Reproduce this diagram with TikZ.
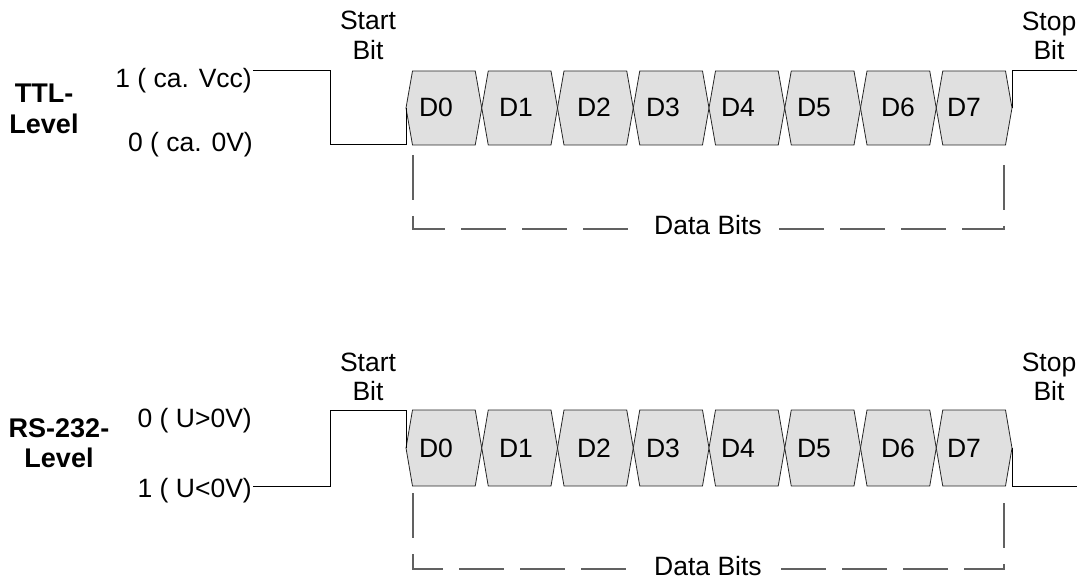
\documentclass[tikz,border=0pt]{standalone}
\usepackage{fontspec}
\setmainfont{Liberation Sans}
\usetikzlibrary{positioning}

\begin{document}
\begin{tikzpicture}[x=1pt,y=-1pt,
  txt/.style={font=\fontsize{26.5}{30}\selectfont,inner sep=0pt},
  lvl/.style={font=\fontsize{27}{30}\selectfont\bfseries,inner sep=0pt,anchor=base},
  sig/.style={line width=1pt,line join=miter},
  cell/.style={draw=black!85,fill=black!12,line width=0.8pt},
  bracket/.style={draw=black!62,line width=1.3pt,dash pattern=on 45pt off 16pt}]
\useasboundingbox (0,0) rectangle (1077,580);
% level names
\node[lvl] (ttl1) at (44,103) {TTL-};
\node[lvl] (ttl2) at (44,134) {Level};
\node[lvl] (rs1) at (59,437) {RS-232-};
\node[lvl] (rs2) at (59,467) {Level};
% level values
\node[txt,anchor=base east] (ttlhi) at (252,88) {1 ( ca. Vcc)};
\node[txt,anchor=base east] (ttllo) at (253,152) {0 ( ca. 0V)};
\node[txt,anchor=base east] (rshi) at (252,427) {0 ( U>0V)};
\node[txt,anchor=base east] (rslo) at (252,497) {1 ( U<0V)};
% start and stop bits
\node[txt,anchor=base] (ttlstart1) at (368,30) {Start};
\node[txt,anchor=base] (ttlstart2) at (368,60) {Bit};
\node[txt,anchor=base] (ttlstop1) at (1049,31) {Stop};
\node[txt,anchor=base] (ttlstop2) at (1049,60) {Bit};
\node[txt,anchor=base] (rsstart1) at (368,371) {Start};
\node[txt,anchor=base] (rsstart2) at (368,400) {Bit};
\node[txt,anchor=base] (rsstop1) at (1049,371) {Stop};
\node[txt,anchor=base] (rsstop2) at (1049,400) {Bit};
% data cells
\foreach \row/\yt/\yb in {t/71/145,r/410/486} {
  \foreach \i/\tx in {0/436,1/516,2/594,3/663,4/738,5/814,6/898,7/964} {
    \pgfmathsetmacro\xa{406+75.75*\i}
    \pgfmathsetmacro\xb{\xa+75.75}
    \pgfmathsetmacro\ym{(\yt+\yb)/2}
    \draw[cell] (\xa,\ym) -- (\xa+6.5,\yt) -- (\xb-6.5,\yt) -- (\xb,\ym)
      -- (\xb-6.5,\yb) -- (\xa+6.5,\yb) -- cycle;
    \node[txt,anchor=base] (d\row\i) at (\tx,\ym+9) {D\i};
  }
}
% TTL signal
\coordinate (t0) at (253,71);
\coordinate (t1) at (330,71);
\coordinate (t2) at (330,145);
\coordinate (t3) at (406,145);
\coordinate (t4) at (406,108);
\coordinate (t5) at (1012,108);
\coordinate (t6) at (1012,71);
\coordinate (t7) at (1077,71);
\draw[sig] (t0) -- (t1) -- (t2) -- (t3) -- (t4);
\draw[sig] (t5) -- (t6) -- (t7);
% RS-232 signal
\coordinate (r0) at (253,486);
\coordinate (r1) at (330,486);
\coordinate (r2) at (330,410);
\coordinate (r3) at (406,410);
\coordinate (r4) at (406,448);
\coordinate (r5) at (1012,448);
\coordinate (r6) at (1012,486);
\coordinate (r7) at (1077,486);
\draw[sig] (r0) -- (r1) -- (r2) -- (r3) -- (r4);
\draw[sig] (r5) -- (r6) -- (r7);
% data bits brackets
\node[txt,anchor=base] (tdata) at (708,235) {Data Bits};
\node[txt,anchor=base] (rdata) at (708,575) {Data Bits};
\coordinate (tl) at (630,229);
\coordinate (tr) at (778,229);
\coordinate (rl) at (630,569);
\coordinate (rr) at (778,569);
\draw[bracket] (413,155) -- (413,229) -- (tl);
\draw[bracket] (1004,165) -- (1004,229) -- (tr);
\draw[bracket] (413,493) -- (413,569) -- (rl);
\draw[bracket] (1004,503) -- (1004,569) -- (rr);
\end{tikzpicture}
\end{document}
